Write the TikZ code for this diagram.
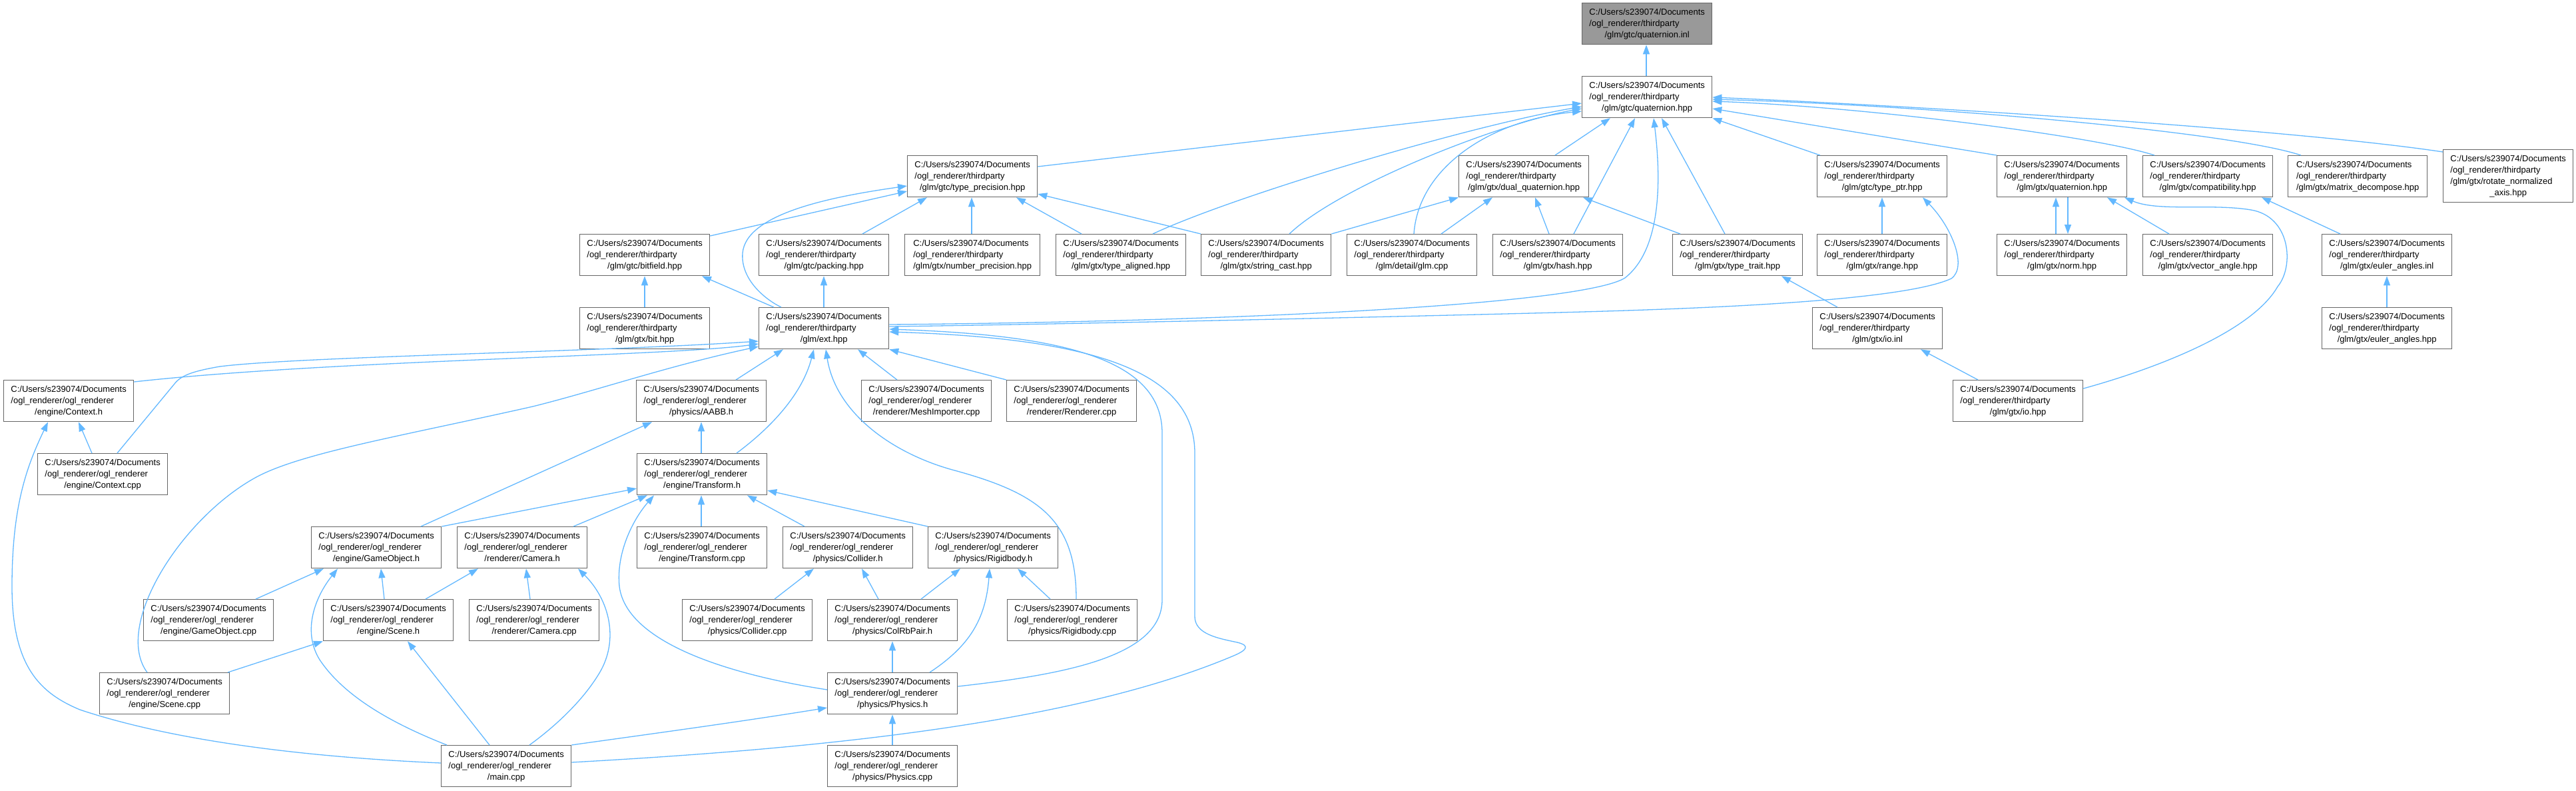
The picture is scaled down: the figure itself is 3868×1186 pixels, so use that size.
\documentclass[tikz,border=0pt]{standalone}
\usepackage{fontspec}
\setmainfont{Liberation Sans}
\usetikzlibrary{arrows.meta}
\definecolor{edgec}{HTML}{63B8FF}
\definecolor{bordc}{HTML}{666666}
\definecolor{topfill}{HTML}{999999}
\newcommand\lnTP{/ogl\_renderer/thirdparty}
\newcommand\lnOR{/ogl\_renderer/ogl\_renderer}
\newcommand\dnode[7][]{\node[gbox,minimum width=#5pt,#1] (#2) at (#3,#4) {\begin{tabular}{@{}l@{}}C:/Users/s239074/Documents\\#6\\\multicolumn{1}{@{}c@{}}{#7}\end{tabular}};}
\tikzset{
  gbox/.style={draw=bordc,fill=white,line width=1.3pt,anchor=north west,minimum height=62pt,inner sep=0pt,font=\fontsize{13}{17}\selectfont},
  dep/.style={draw=edgec,line width=1.3pt,{Triangle[length=14pt,width=10pt]}-}
}
\begin{document}
\begin{tikzpicture}[x=1pt,y=-1pt]
\useasboundingbox (0,0) rectangle (3868,1186);
% nodes
\dnode[fill=topfill]{qinl}{2375}{4}{195}{\lnTP}{/glm/gtc/quaternion.inl}
\dnode{qhpp}{2375}{114}{195}{\lnTP}{/glm/gtc/quaternion.hpp}
\dnode{tprec}{1362}{233}{195}{\lnTP}{/glm/gtc/type\_precision.hpp}
\dnode{dualq}{2190}{233}{195}{\lnTP}{/glm/gtx/dual\_quaternion.hpp}
\dnode{tptr}{2728}{233}{195}{\lnTP}{/glm/gtc/type\_ptr.hpp}
\dnode{gxq}{2998}{233}{195}{\lnTP}{/glm/gtx/quaternion.hpp}
\dnode{compat}{3217}{233}{195}{\lnTP}{/glm/gtx/compatibility.hpp}
\dnode{mdec}{3435}{233}{209}{\lnTP}{/glm/gtx/matrix\_decompose.hpp}
\node[gbox,minimum width=195pt,minimum height=79pt] (rna) at (3668,224) {\begin{tabular}{@{}l@{}}C:/Users/s239074/Documents\\\lnTP\\/glm/gtx/rotate\_normalized\\\multicolumn{1}{@{}c@{}}{\_axis.hpp}\end{tabular}};
\dnode{bitf}{870}{351}{195}{\lnTP}{/glm/gtc/bitfield.hpp}
\dnode{pack}{1139}{351}{195}{\lnTP}{/glm/gtc/packing.hpp}
\dnode{nprec}{1358}{351}{203}{\lnTP}{/glm/gtx/number\_precision.hpp}
\dnode{taln}{1585}{351}{195}{\lnTP}{/glm/gtx/type\_aligned.hpp}
\dnode{scast}{1803}{351}{195}{\lnTP}{/glm/gtx/string\_cast.hpp}
\dnode{dglm}{2022}{351}{195}{\lnTP}{/glm/detail/glm.cpp}
\dnode{hash}{2241}{351}{195}{\lnTP}{/glm/gtx/hash.hpp}
\dnode{ttrait}{2511}{351}{195}{\lnTP}{/glm/gtx/type\_trait.hpp}
\dnode{range}{2728}{351}{195}{\lnTP}{/glm/gtx/range.hpp}
\dnode{norm}{2998}{351}{195}{\lnTP}{/glm/gtx/norm.hpp}
\dnode{vang}{3217}{351}{195}{\lnTP}{/glm/gtx/vector\_angle.hpp}
\dnode{eulinl}{3486}{351}{195}{\lnTP}{/glm/gtx/euler\_angles.inl}
\dnode{bit}{870}{461}{195}{\lnTP}{/glm/gtx/bit.hpp}
\dnode{ext}{1139}{461}{195}{\lnTP}{/glm/ext.hpp}
\dnode{ioinl}{2721}{461}{195}{\lnTP}{/glm/gtx/io.inl}
\dnode{eulhpp}{3486}{461}{195}{\lnTP}{/glm/gtx/euler\_angles.hpp}
\dnode{ctxh}{5}{570}{195}{\lnOR}{/engine/Context.h}
\dnode{aabb}{955}{570}{195}{\lnOR}{/physics/AABB.h}
\dnode{mesh}{1293}{570}{195}{\lnOR}{/renderer/MeshImporter.cpp}
\dnode{rend}{1511}{570}{195}{\lnOR}{/renderer/Renderer.cpp}
\dnode{iohpp}{2932}{570}{195}{\lnTP}{/glm/gtx/io.hpp}
\dnode{ctxcpp}{56}{680}{195}{\lnOR}{/engine/Context.cpp}
\dnode{trh}{956}{680}{195}{\lnOR}{/engine/Transform.h}
\dnode{goh}{467}{790}{195}{\lnOR}{/engine/GameObject.h}
\dnode{camh}{686}{790}{195}{\lnOR}{/renderer/Camera.h}
\dnode{trcpp}{956}{790}{195}{\lnOR}{/engine/Transform.cpp}
\dnode{colh}{1175}{790}{195}{\lnOR}{/physics/Collider.h}
\dnode{rbh}{1393}{790}{195}{\lnOR}{/physics/Rigidbody.h}
\dnode{gocpp}{215}{899}{195}{\lnOR}{/engine/GameObject.cpp}
\dnode{sceneh}{485}{899}{195}{\lnOR}{/engine/Scene.h}
\dnode{camcpp}{704}{899}{195}{\lnOR}{/renderer/Camera.cpp}
\dnode{colcpp}{1024}{899}{195}{\lnOR}{/physics/Collider.cpp}
\dnode{crp}{1242}{899}{195}{\lnOR}{/physics/ColRbPair.h}
\dnode{rbcpp}{1512}{899}{195}{\lnOR}{/physics/Rigidbody.cpp}
\dnode{scenecpp}{149}{1009}{195}{\lnOR}{/engine/Scene.cpp}
\dnode{physh}{1242}{1009}{195}{\lnOR}{/physics/Physics.h}
\dnode{main}{662}{1118}{195}{\lnOR}{/main.cpp}
\dnode{physcpp}{1242}{1118}{195}{\lnOR}{/physics/Physics.cpp}
% edges into quaternion.inl / quaternion.hpp
\draw[dep] (2472,0|-qinl.south) -- (2472,0|-qhpp.north);
\draw[dep] (qhpp.west|-0,155) -- (tprec.east|-0,250);
\draw[dep] (qhpp.west|-0,160) .. controls (2200,190) and (1850,295) .. (1731,0|-taln.north);
\draw[dep] (qhpp.west|-0,163) .. controls (2250,185) and (2010,280) .. (1936,0|-scast.north);
\draw[dep] (qhpp.west|-0,167) .. controls (2240,180) and (2130,250) .. (2123,0|-dglm.north);
\draw[dep] (2418,0|-qhpp.south) -- (2335,0|-dualq.north);
\draw[dep] (2455,0|-qhpp.south) -- (2363,0|-hash.north);
\draw[dep] (2483,0|-qhpp.south) .. controls (2492,250) and (2500,370) .. (2440,417) .. controls (2380,455) and (1900,482) .. (ext.east|-0,487);
\draw[dep] (2495,0|-qhpp.south) -- (2590,0|-ttrait.north);
\draw[dep] (qhpp.south east) -- (2733,0|-tptr.north);
\draw[dep] (qhpp.east|-0,163) -- (gxq.north west);
\draw[dep] (qhpp.east|-0,152) .. controls (2800,160) and (3150,205) .. (3235,0|-compat.north);
\draw[dep] (qhpp.east|-0,149) .. controls (2900,158) and (3350,198) .. (3455,0|-mdec.north);
\draw[dep] (qhpp.east|-0,146) .. controls (2900,160) and (3450,195) .. (rna.west|-0,228);
% dual_quaternion
\draw[dep] (2241,0|-dualq.south) -- (2164,0|-dglm.north);
\draw[dep] (dualq.south west) -- (scast.north east);
\draw[dep] (2305,0|-dualq.south) -- (2326,0|-hash.north);
\draw[dep] (2377,0|-dualq.south) -- (2523,0|-ttrait.north);
% type_precision
\draw[dep] (tprec.west|-0,287) -- (bitf.east|-0,354);
\draw[dep] (tprec.west|-0,279) .. controls (1250,295) and (1120,320) .. (1115,380) .. controls (1112,420) and (1150,450) .. (1173,0|-ext.north);
\draw[dep] (1392,0|-tprec.south) -- (1295,0|-pack.north);
\draw[dep] (1459,0|-tprec.south) -- (1459,0|-nprec.north);
\draw[dep] (1526,0|-tprec.south) -- (1624,0|-taln.north);
\draw[dep] (tprec.east|-0,291) -- (scast.north west);
% bitfield, packing
\draw[dep] (968,0|-bitf.south) -- (968,0|-bit.north);
\draw[dep] (1054,0|-bitf.south) -- (1162,0|-ext.north);
\draw[dep] (1237,0|-pack.south) -- (1237,0|-ext.north);
% ext.hpp
\draw[dep] (ext.west|-0,516) .. controls (1000,535) and (500,540) .. (ctxh.east|-0,573);
\draw[dep] (ext.west|-0,512) .. controls (900,528) and (450,535) .. (330,550) .. controls (290,557) and (272,563) .. (262,576) -- (176,0|-ctxcpp.north);
\draw[dep] (ext.west|-0,520) .. controls (1000,550) and (900,585) .. (800,610) .. controls (600,655) and (450,680) .. (383,717) .. controls (270,780) and (170,940) .. (221,0|-scenecpp.north);
\draw[dep] (1176,0|-ext.south) -- (1105,0|-aabb.north);
\draw[dep] (1222,0|-ext.south) .. controls (1205,590) and (1160,640) .. (1106,0|-trh.north);
\draw[dep] (1240,0|-ext.south) .. controls (1255,620) and (1340,680) .. (1430,705) .. controls (1560,740) and (1616,780) .. (1616,0|-rbcpp.north);
\draw[dep] (1288,0|-ext.south) -- (1347,0|-mesh.north);
\draw[dep] (ext.south east) -- (rend.north west);
\draw[dep] (ext.east|-0,494) .. controls (1600,503) and (1745,540) .. (1745,650) -- (1745,900) .. controls (1745,985) and (1600,1012) .. (physh.east|-0,1030);
\draw[dep] (ext.east|-0,498) .. controls (1650,508) and (1794,560) .. (1794,680) -- (1794,925) .. controls (1794,952) and (1830,958) .. (1858,964) .. controls (1878,969) and (1872,976) .. (1850,985) .. controls (1600,1090) and (1200,1125) .. (main.east|-0,1144);
% Context.h
\draw[dep] (118,0|-ctxh.south) -- (138,0|-ctxcpp.north);
\draw[dep] (72,0|-ctxh.south) .. controls (40,700) and (18,760) .. (18,880) .. controls (18,1000) and (60,1040) .. (120,1065) .. controls (300,1125) and (550,1140) .. (main.west|-0,1145);
% AABB.h
\draw[dep] (1053,0|-aabb.south) -- (1053,0|-trh.north);
\draw[dep] (979,0|-aabb.south) -- (632,0|-goh.north);
% Transform.h
\draw[dep] (trh.west|-0,733) -- (goh.north east);
\draw[dep] (972,0|-trh.south) -- (861,0|-camh.north);
\draw[dep] (982,0|-trh.south) .. controls (950,780) and (925,830) .. (930,880) .. controls (940,960) and (1080,1010) .. (physh.west|-0,1035);
\draw[dep] (1053,0|-trh.south) -- (1053,0|-trcpp.north);
\draw[dep] (1122,0|-trh.south) -- (1208,0|-colh.north);
\draw[dep] (trh.east|-0,736) -- (rbh.north west);
% GameObject.h
\draw[dep] (486,0|-goh.south) -- (384,0|-gocpp.north);
\draw[dep] (507,0|-goh.south) .. controls (470,900) and (455,950) .. (480,990) .. controls (520,1050) and (600,1090) .. (671,0|-main.north);
\draw[dep] (572,0|-goh.south) -- (577,0|-sceneh.north);
% Camera.h
\draw[dep] (718,0|-camh.south) -- (639,0|-sceneh.north);
\draw[dep] (790,0|-camh.south) -- (796,0|-camcpp.north);
\draw[dep] (868,0|-camh.south) .. controls (915,900) and (930,960) .. (900,1010) .. controls (870,1060) and (820,1100) .. (795,0|-main.north);
% Scene.h
\draw[dep] (sceneh.south west) -- (342,0|-scenecpp.north);
\draw[dep] (612,0|-sceneh.south) -- (735,0|-main.north);
% Collider.h, Rigidbody.h, Physics
\draw[dep] (1222,0|-colh.south) -- (1163,0|-colcpp.north);
\draw[dep] (1294,0|-colh.south) -- (1319,0|-crp.north);
\draw[dep] (1442,0|-rbh.south) -- (1383,0|-crp.north);
\draw[dep] (1486,0|-rbh.south) .. controls (1480,930) and (1455,970) .. (1396,0|-physh.north);
\draw[dep] (1528,0|-rbh.south) -- (1577,0|-rbcpp.north);
\draw[dep] (1340,0|-crp.south) -- (1340,0|-physh.north);
\draw[dep] (1340,0|-physh.south) -- (1340,0|-physcpp.north);
\draw[dep] (physh.west|-0,1062) .. controls (1100,1085) and (950,1105) .. (main.north east);
% gtx/quaternion.hpp
\draw[dep] (3087,0|-gxq.south) -- (3087,0|-norm.north);
\draw[dep] (3105,0|-norm.north) -- (3105,0|-gxq.south);
\draw[dep] (3164,0|-gxq.south) -- (3257,0|-vang.north);
\draw[dep] (3190,0|-gxq.south) .. controls (3240,318) and (3320,305) .. (3380,315) .. controls (3440,325) and (3445,400) .. (3420,430) .. controls (3380,500) and (3230,555) .. (iohpp.east|-0,583);
% others
\draw[dep] (3396,0|-compat.south) -- (3514,0|-eulinl.north);
\draw[dep] (3584,0|-eulinl.south) -- (3584,0|-eulhpp.north);
\draw[dep] (2826,0|-tptr.south) -- (2826,0|-range.north);
\draw[dep] (2887,0|-tptr.south) .. controls (2930,340) and (2955,400) .. (2930,418) .. controls (2850,455) and (2500,465) .. (2300,470) .. controls (1900,480) and (1500,488) .. (ext.east|-0,490);
\draw[dep] (2884,0|-ioinl.south) -- (2970,0|-iohpp.north);
\draw[dep] (2675,0|-ttrait.south) -- (2759,0|-ioinl.north);
\end{tikzpicture}
\end{document}
